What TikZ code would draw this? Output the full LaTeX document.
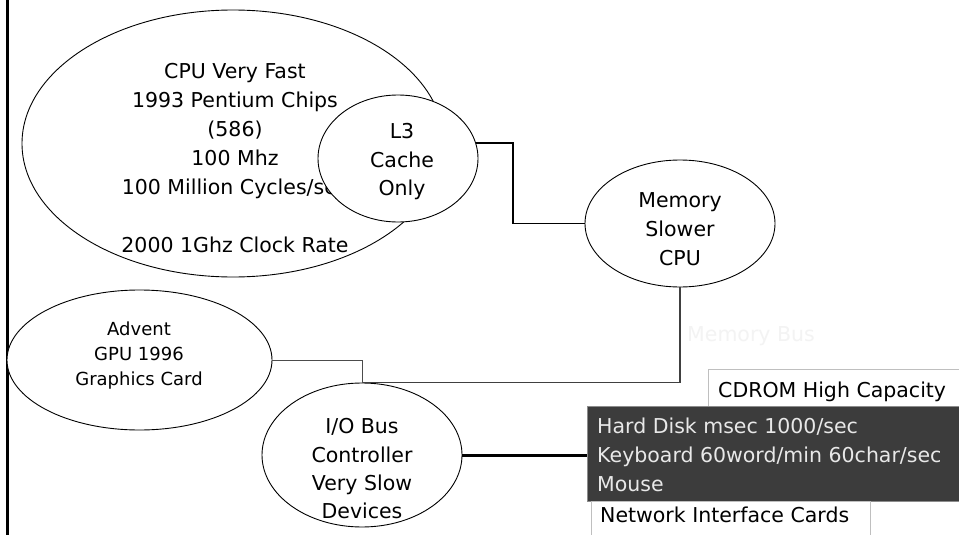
\documentclass[tikz,border=0pt]{standalone}
\usepackage{fontspec}
\setmainfont{DejaVu Sans}
\usetikzlibrary{shapes.geometric}
\definecolor{boxdark}{HTML}{3C3C3C}
\definecolor{boxtext}{HTML}{E8E8E8}
\definecolor{faint}{HTML}{F3F3F3}
\begin{document}
\begin{tikzpicture}[x=1pt,y=-1pt,
  ell/.style={ellipse, draw=black, line width=0.9pt, inner sep=0pt, fill=white},
  txt/.style={anchor=base, inner sep=0pt, font=\fontsize{20.5}{24}\selectfont},
  smalltxt/.style={anchor=base, inner sep=0pt, font=\fontsize{18}{22}\selectfont},
  ltxt/.style={anchor=base west, inner sep=0pt, font=\fontsize{20.5}{24}\selectfont},
  bus/.style={line width=1.2pt, draw=black!75},
  thinbus/.style={line width=0.9pt, draw=black!70},
  cachebus/.style={line width=1.8pt, draw=black},
  iobus/.style={line width=3pt, draw=black},
  lightbox/.style={draw=black!25, line width=0.9pt, fill=white, inner sep=0pt, anchor=north west}]
\useasboundingbox (0,0) rectangle (959,535);
\clip (0,0) rectangle (959,535);
\fill[white] (0,0) rectangle (959,535);

% left border
\draw[line width=2.6pt] (7.5,0) -- (7.5,535);

% CPU
\node[ell, minimum width=422pt, minimum height=267pt] (cpu) at (233,143.5) {};
\node[txt] (cpu1) at (235,78) {CPU Very Fast};
\node[txt] (cpu2) at (235,107) {1993 Pentium Chips};
\node[txt] (cpu3) at (235,136) {(586)};
\node[txt] (cpu4) at (235,165) {100 Mhz};
\node[txt] (cpu5) at (235,194) {100 Million Cycles/sec};
\node[txt] (cpu6) at (235,252) {2000 1Ghz Clock Rate};

% L3 cache
\node[ell, minimum width=160pt, minimum height=127pt] (l3) at (398,158.5) {};
\node[txt] (l3a) at (402,138) {L3};
\node[txt] (l3b) at (402,167) {Cache};
\node[txt] (l3c) at (402,195) {Only};

% Memory
\node[ell, minimum width=190pt, minimum height=127pt] (mem) at (680,223.5) {};
\node[txt] (mema) at (680,207) {Memory};
\node[txt] (memb) at (680,236) {Slower};
\node[txt] (memc) at (680,265) {CPU};

% GPU
\node[ell, minimum width=265pt, minimum height=140pt] (gpu) at (139.5,360) {};
\node[smalltxt] (gpua) at (139,335) {Advent};
\node[smalltxt] (gpub) at (139,360) {GPU 1996};
\node[smalltxt] (gpuc) at (139,385) {Graphics Card};

% I/O
\node[ell, minimum width=200pt, minimum height=144pt] (io) at (362,455) {};
\node[txt] (ioa) at (362,433) {I/O Bus};
\node[txt] (iob) at (362,462) {Controller};
\node[txt] (ioc) at (362,490) {Very Slow};
\node[txt] (iod) at (362,518) {Devices};

% faint label
\node[ltxt, text=faint] (membus) at (687,341) {Memory Bus};

% device boxes
\node[lightbox, minimum width=280pt, minimum height=40pt] (cd) at (708,369) {};
\node[ltxt] (cdt) at (718,397) {CDROM High Capacity};
\node[draw=black!45, line width=0.9pt, fill=boxdark, inner sep=0pt, anchor=north west,
      minimum width=400pt, minimum height=95pt] (dev) at (587,406) {};
\node[ltxt, text=boxtext] (deva) at (597,433) {Hard Disk msec 1000/sec};
\node[ltxt, text=boxtext] (devb) at (597,462) {Keyboard 60word/min 60char/sec};
\node[ltxt, text=boxtext] (devc) at (597,491) {Mouse};
\node[lightbox, minimum width=279pt, minimum height=50pt] (net) at (591,501) {};
\node[ltxt] (nett) at (600,522) {Network Interface Cards};

% connectors
\draw[cachebus] (l3.11) -- ++(37,0) |- (mem.west);
\draw[bus] (mem.south) |- (io.north);
\draw[thinbus] (gpu.east) -| (io.north);
\draw[iobus] (io.east) -- (io.east -| dev.west);
\end{tikzpicture}
\end{document}
